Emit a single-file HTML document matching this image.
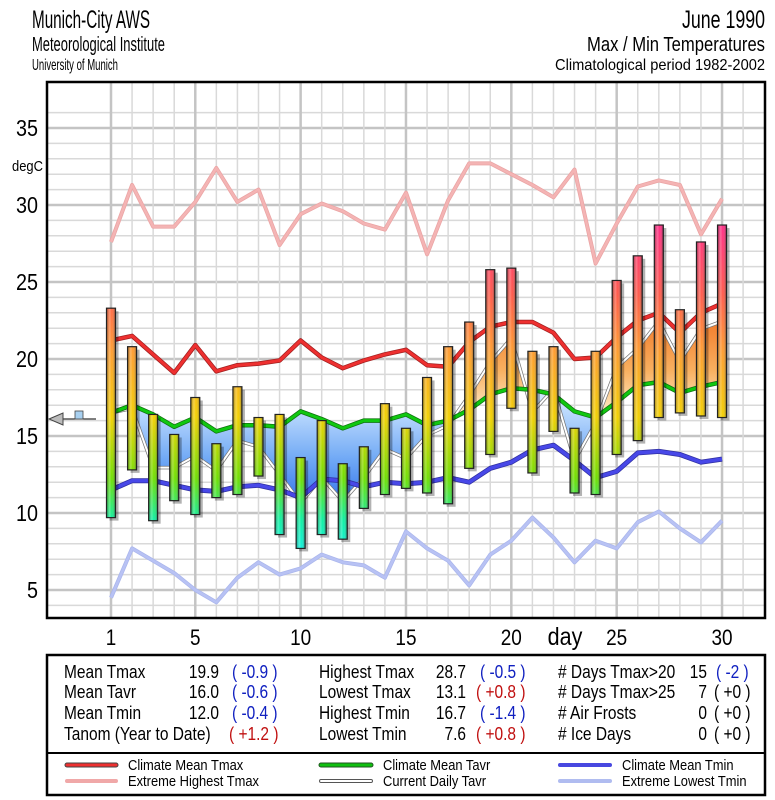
<!DOCTYPE html>
<html><head><meta charset="utf-8"><title>Munich-City AWS June 1990</title>
<style>
html,body{margin:0;padding:0;background:#fff;}
svg{display:block;font-family:"Liberation Sans",sans-serif;}
</style></head>
<body>
<svg id="chart" width="775" height="800" viewBox="0 0 775 800" xmlns="http://www.w3.org/2000/svg">
<defs>
  <linearGradient id="barGrad" gradientUnits="userSpaceOnUse" x1="0" y1="220" x2="0" y2="560">
    <stop offset="0" stop-color="#ff2a8a"/>
    <stop offset="0.22" stop-color="#ff5a4a"/>
    <stop offset="0.38" stop-color="#ff9a30"/>
    <stop offset="0.58" stop-color="#f2d000"/>
    <stop offset="0.76" stop-color="#6ee000"/>
    <stop offset="0.88" stop-color="#10f0a0"/>
    <stop offset="1" stop-color="#10f0f0"/>
  </linearGradient>
  <linearGradient id="barShade" x1="0" y1="0" x2="1" y2="0">
    <stop offset="0" stop-color="#000" stop-opacity="0.35"/>
    <stop offset="0.35" stop-color="#fff" stop-opacity="0.25"/>
    <stop offset="0.6" stop-color="#fff" stop-opacity="0"/>
    <stop offset="1" stop-color="#000" stop-opacity="0.45"/>
  </linearGradient>
  <linearGradient id="blueFill" gradientUnits="userSpaceOnUse" x1="0" y1="400" x2="0" y2="520">
    <stop offset="0" stop-color="#cfe6ff"/>
    <stop offset="0.5" stop-color="#6fa8f5"/>
    <stop offset="1" stop-color="#2060e8"/>
  </linearGradient>
  <linearGradient id="orangeFill" gradientUnits="userSpaceOnUse" x1="0" y1="310" x2="0" y2="420">
    <stop offset="0" stop-color="#f07020"/>
    <stop offset="0.55" stop-color="#f8b060"/>
    <stop offset="1" stop-color="#fff4d8"/>
  </linearGradient>
  <clipPath id="plotClip"><rect x="47" y="82" width="718" height="536"/></clipPath>
  <clipPath id="aboveClip"><polygon id="aboveClipPoly" points=""/></clipPath>
  <clipPath id="belowClip"><polygon id="belowClipPoly" points=""/></clipPath>
</defs>

<g fill="#000">
  <text x="32" y="28" font-size="25" textLength="118" lengthAdjust="spacingAndGlyphs">Munich-City AWS</text>
  <text x="32" y="51" font-size="20" textLength="133" lengthAdjust="spacingAndGlyphs">Meteorological Institute</text>
  <text x="32" y="70" font-size="16" textLength="86" lengthAdjust="spacingAndGlyphs">University of Munich</text>
</g>
<g fill="#000" text-anchor="end">
  <text x="765" y="28" font-size="25" textLength="83" lengthAdjust="spacingAndGlyphs">June 1990</text>
  <text x="765" y="51" font-size="20" textLength="178" lengthAdjust="spacingAndGlyphs">Max / Min Temperatures</text>
  <text x="765" y="70" font-size="16" textLength="210" lengthAdjust="spacingAndGlyphs">Climatological period 1982-2002</text>
</g>

<g id="grid"></g>
<g id="fills" clip-path="url(#plotClip)"></g>
<g id="lines" clip-path="url(#plotClip)"></g>
<g id="bars"></g>
<rect x="47" y="82" width="718" height="536" fill="none" stroke="#000" stroke-width="2.5"/>
<g id="yaxis" class="cond"></g>
<text x="12" y="171" font-size="15" textLength="31" lengthAdjust="spacingAndGlyphs">degC</text>
<g id="xaxis" class="cond"></g>
<text x="565" y="645" font-size="25" text-anchor="middle" class="cond">day</text>

<g>
  <line x1="60" y1="419" x2="96" y2="419" stroke="#000" stroke-width="1"/>
  <polygon points="49,419 63,413 63,425" fill="#bbb" stroke="#444" stroke-width="1"/>
  <rect x="75" y="411" width="8" height="8" fill="#a8d0f0" stroke="#444" stroke-width="0.8"/>
</g>

<g font-size="18">
  <rect x="47" y="655" width="718" height="140" fill="#fff" stroke="#000" stroke-width="2.5"/>
  <line x1="47" y1="753" x2="765" y2="753" stroke="#000" stroke-width="2"/>
  <g class="cond">
    <text x="64" y="678">Mean Tmax</text><text x="219" y="678" text-anchor="end">19.9</text><text x="232" y="678" fill="#1020c0">( -0.9 )</text>
    <text x="64" y="698">Mean Tavr</text><text x="219" y="698" text-anchor="end">16.0</text><text x="232" y="698" fill="#1020c0">( -0.6 )</text>
    <text x="64" y="719">Mean Tmin</text><text x="219" y="719" text-anchor="end">12.0</text><text x="232" y="719" fill="#1020c0">( -0.4 )</text>
    <text x="64" y="740">Tanom (Year to Date)</text><text x="229" y="740" fill="#c01010">( +1.2 )</text>
  </g>
  <g class="cond">
    <text x="319" y="678">Highest Tmax</text><text x="466" y="678" text-anchor="end">28.7</text><text x="480" y="678" fill="#1020c0">( -0.5 )</text>
    <text x="319" y="698">Lowest Tmax</text><text x="466" y="698" text-anchor="end">13.1</text><text x="476" y="698" fill="#c01010">( +0.8 )</text>
    <text x="319" y="719">Highest Tmin</text><text x="466" y="719" text-anchor="end">16.7</text><text x="480" y="719" fill="#1020c0">( -1.4 )</text>
    <text x="319" y="740">Lowest Tmin</text><text x="466" y="740" text-anchor="end">7.6</text><text x="476" y="740" fill="#c01010">( +0.8 )</text>
  </g>
  <g class="cond">
    <text x="558" y="678"># Days Tmax&gt;20</text><text x="707" y="678" text-anchor="end">15</text><text x="716" y="678" fill="#1020c0">( -2 )</text>
    <text x="558" y="698"># Days Tmax&gt;25</text><text x="707" y="698" text-anchor="end">7</text><text x="714" y="698">( +0 )</text>
    <text x="558" y="719"># Air Frosts</text><text x="707" y="719" text-anchor="end">0</text><text x="714" y="719">( +0 )</text>
    <text x="558" y="740"># Ice Days</text><text x="707" y="740" text-anchor="end">0</text><text x="714" y="740">( +0 )</text>
  </g>
  <g class="cond" font-size="15">
    <g><line x1="67" y1="765" x2="116" y2="765" stroke="#444" stroke-width="5" stroke-linecap="round"/><line x1="67" y1="765" x2="116" y2="765" stroke="#ee3030" stroke-width="3" stroke-linecap="round"/><text x="128" y="770">Climate Mean Tmax</text></g>
    <g><line x1="67" y1="781" x2="116" y2="781" stroke="#f0a8a8" stroke-width="4" stroke-linecap="round"/><text x="128" y="786">Extreme Highest Tmax</text></g>
    <g><line x1="321" y1="765" x2="371" y2="765" stroke="#225522" stroke-width="5" stroke-linecap="round"/><line x1="321" y1="765" x2="371" y2="765" stroke="#10c010" stroke-width="3" stroke-linecap="round"/><text x="383" y="770">Climate Mean Tavr</text></g>
    <g><line x1="321" y1="781" x2="371" y2="781" stroke="#555" stroke-width="4" stroke-linecap="round"/><line x1="321" y1="781" x2="371" y2="781" stroke="#fff" stroke-width="2" stroke-linecap="round"/><text x="383" y="786">Current Daily Tavr</text></g>
    <g><line x1="560" y1="765" x2="610" y2="765" stroke="#4848e0" stroke-width="4" stroke-linecap="round"/><text x="622" y="770">Climate Mean Tmin</text></g>
    <g><line x1="560" y1="781" x2="610" y2="781" stroke="#b0bcf0" stroke-width="4" stroke-linecap="round"/><text x="622" y="786">Extreme Lowest Tmin</text></g>
  </g>
</g>

<script>
const days = [1,2,3,4,5,6,7,8,9,10,11,12,13,14,15,16,17,18,19,20,21,22,23,24,25,26,27,28,29,30];
const tmax = [23.3,20.8,16.4,15.1,17.5,14.5,18.2,16.2,16.4,13.6,16.0,13.2,14.3,17.1,15.5,18.8,20.8,22.4,25.8,25.9,20.5,20.8,15.5,20.5,25.1,26.7,28.7,23.2,27.6,28.7];
const tmin = [9.7,12.8,9.5,10.8,9.9,11.0,11.2,12.4,8.6,7.7,8.6,8.3,10.3,11.2,11.6,11.3,10.6,12.9,13.8,16.8,12.6,15.3,11.3,11.2,13.8,14.7,16.2,16.5,16.3,16.2];
const climTmax = [21.2,21.5,20.3,19.1,20.9,19.2,19.6,19.7,19.9,21.2,20.1,19.4,19.9,20.3,20.6,19.6,19.5,21.1,22.1,22.4,22.4,21.7,20.0,20.1,21.4,22.5,23.0,21.7,23.0,23.6];
const climTavr = [16.5,17.0,16.4,15.6,16.2,15.3,15.7,15.7,15.6,16.6,16.1,15.5,16.0,16.0,16.4,15.7,16.0,16.7,17.7,18.1,18.0,17.7,16.6,16.2,17.2,18.3,18.5,17.8,18.2,18.5];
const climTmin = [11.5,12.1,12.1,11.8,11.5,11.4,11.7,11.8,11.5,11.0,12.2,12.1,11.7,12.0,11.9,12.0,12.3,12.0,12.9,13.3,14.1,14.4,13.4,12.3,12.7,13.9,14.0,13.8,13.3,13.5];
const extMax = [27.6,31.3,28.6,28.6,30.2,32.4,30.2,31.0,27.4,29.4,30.1,29.6,28.8,28.4,30.8,26.8,30.3,32.7,32.7,32.0,31.3,30.5,32.3,26.2,28.8,31.2,31.6,31.3,28.1,30.4];
const extMin = [4.5,7.7,6.9,6.1,5.0,4.2,5.8,6.8,6.0,6.4,7.3,6.8,6.6,5.8,8.8,7.7,6.9,5.3,7.3,8.2,9.7,8.4,6.8,8.2,7.7,9.4,10.1,9.0,8.1,9.5];
const yTicks = [5,10,15,20,25,30,35];
const xTicks = [1,5,10,15,20,25,30];

const NS = "http://www.w3.org/2000/svg";
function X(d){ return 111 + (d-1)*21.07; }
function Y(v){ return 667 - 15.4*v; }
function mk(tag, attrs, parent){
  const e = document.createElementNS(NS, tag);
  for (const k in attrs) e.setAttribute(k, attrs[k]);
  if (parent) parent.appendChild(e);
  return e;
}

const grid = document.getElementById('grid');
for (let v = 4; v <= 36; v++) {
  const major = v % 5 === 0;
  const l = mk('line', {x1:47, x2:765, y1:Y(v), y2:Y(v), stroke: major ? '#c4c4c4' : '#d9d9d9', 'stroke-width': major ? 2.5 : 1.5}, grid);
  
  
}
for (let d = 1; d <= 31; d++) {
  const major = d === 1 || d % 5 === 0;
  const l = mk('line', {x1:X(d), x2:X(d), y1:82, y2:618, stroke: major ? '#c4c4c4' : '#d9d9d9', 'stroke-width': major ? 2.5 : 1.5}, grid);
  
  
}

const yaxis = document.getElementById('yaxis');
yTicks.forEach(v => {
  const t = mk('text', {x:38, y:Y(v)+8, 'font-size':23, 'text-anchor':'end'}, yaxis);
  t.textContent = v;
  
  
});
const xaxis = document.getElementById('xaxis');
xTicks.forEach(d => {
  const t = mk('text', {x:X(d), y:645, 'font-size':22, 'text-anchor':'middle'}, xaxis);
  t.textContent = d;
  
  
});

const tavr = days.map((d,i) => (tmax[i] + tmin[i]) / 2);
function pts(arr){ return days.map((d,i) => X(d).toFixed(1) + ',' + Y(arr[i]).toFixed(1)); }

const climPts = pts(climTavr);
document.getElementById('aboveClipPoly').setAttribute('points', climPts.join(' ') + ' ' + X(30) + ',0 ' + X(1) + ',0');
document.getElementById('belowClipPoly').setAttribute('points', climPts.join(' ') + ' ' + X(30) + ',800 ' + X(1) + ',800');
const areaPoints = pts(tavr).concat(climPts.slice().reverse()).join(' ');
const fills = document.getElementById('fills');
const fa = mk('polygon', {points: areaPoints, fill: 'url(#orangeFill)', 'fill-rule': 'evenodd', 'clip-path': 'url(#aboveClip)'}, fills);


const fb = mk('polygon', {points: areaPoints, fill: 'url(#blueFill)', 'fill-rule': 'evenodd', 'clip-path': 'url(#belowClip)'}, fills);



const lines = document.getElementById('lines');
function series(arr, color, w, outline, name){
  const g = mk('g', {}, lines);
  
  
  const p = pts(arr).join(' ');
  if (outline) mk('polyline', {points:p, fill:'none', stroke:outline, 'stroke-width':w+1.5, 'stroke-linejoin':'round'}, g);
  mk('polyline', {points:p, fill:'none', stroke:color, 'stroke-width':w, 'stroke-linejoin':'round'}, g);
}
series(extMax, '#f4b4b4', 2.5, '#eaa4a4', 'extreme-highest-tmax-line');
series(extMin, '#b8c2f4', 2.5, '#aab6ec', 'extreme-lowest-tmin-line');
series(tavr, '#ffffff', 2, '#777', 'current-daily-tavr-line');
series(climTmax, '#ee3030', 3, '#a02020', 'climate-mean-tmax-line');
series(climTavr, '#10c810', 3, '#107010', 'climate-mean-tavr-line');
series(climTmin, '#4848e8', 3.5, '#3030a0', 'climate-mean-tmin-line');

const bars = document.getElementById('bars');
days.forEach((d,i) => {
  const g = mk('g', {}, bars);
  
  
  const x = X(d) - 4.5, y1 = Y(tmax[i]), y2 = Y(tmin[i]);
  mk('rect', {x:x+3, y:y1+3, width:9, height:y2-y1, fill:'#000', opacity:0.3}, g);
  mk('rect', {x:x, y:y1, width:9, height:y2-y1, fill:'url(#barGrad)'}, g);
  mk('rect', {x:x, y:y1, width:9, height:y2-y1, fill:'url(#barShade)', stroke:'#222', 'stroke-width':1.2}, g);
});

document.querySelectorAll('.cond text, text.cond').forEach(t => {
  const w = t.getComputedTextLength();
  if (w > 0) {
    t.setAttribute('textLength', (w * 0.86).toFixed(1));
    t.setAttribute('lengthAdjust', 'spacingAndGlyphs');
  }
});
</script>
</svg>
</body></html>
